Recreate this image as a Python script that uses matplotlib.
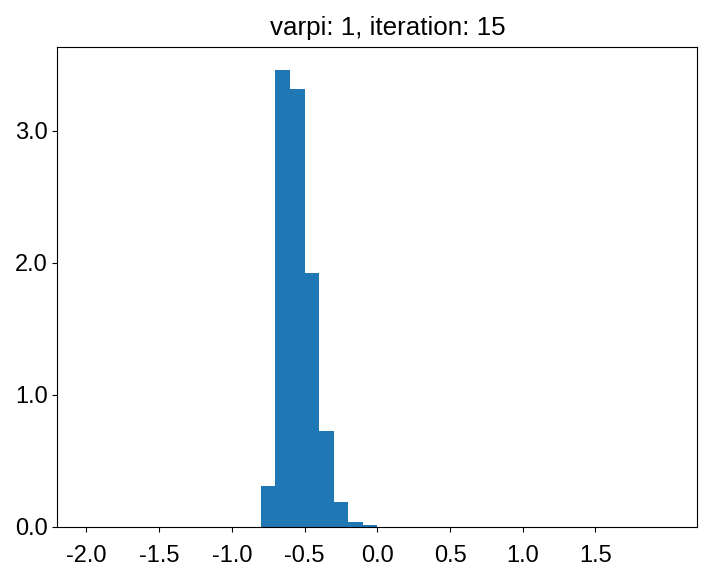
"""Histogram of varpi samples at iteration 15."""

import matplotlib

matplotlib.use("Agg")
import matplotlib.pyplot as plt
from matplotlib.ticker import FormatStrFormatter

bin_edges = [-0.8, -0.7, -0.6, -0.5, -0.4, -0.3, -0.2, -0.1, 0.0]
densities = [0.31, 3.46, 3.32, 1.92, 0.727, 0.185, 0.036, 0.013]
x_ticks = [-2.0, -1.5, -1.0, -0.5, 0.0, 0.5, 1.0, 1.5]
y_ticks = [0.0, 1.0, 2.0, 3.0]

plt.rcParams["font.family"] = ["Liberation Sans", "DejaVu Sans"]

fig = plt.figure(figsize=(7.21, 5.76), dpi=100)
ax = fig.add_axes([0.0795, 0.0856, 0.9671 - 0.0795, 0.9179 - 0.0856])

ax.hist(bin_edges[:-1], bins=bin_edges, weights=densities, color="#1f77b4")
ax.set_xlim(-2.2, 2.2)
ax.set_xticks(x_ticks)
ax.set_yticks(y_ticks)
ax.yaxis.set_major_formatter(FormatStrFormatter("%.1f"))
ax.xaxis.set_major_formatter(FormatStrFormatter("%.1f"))
ax.tick_params(labelsize=17)
ax.tick_params(axis="x", pad=10)
ax.set_title("varpi: 1, iteration: 15", fontsize=18.7, pad=9, x=0.516)

fig.savefig("out.png", dpi=100)
plt.close(fig)
